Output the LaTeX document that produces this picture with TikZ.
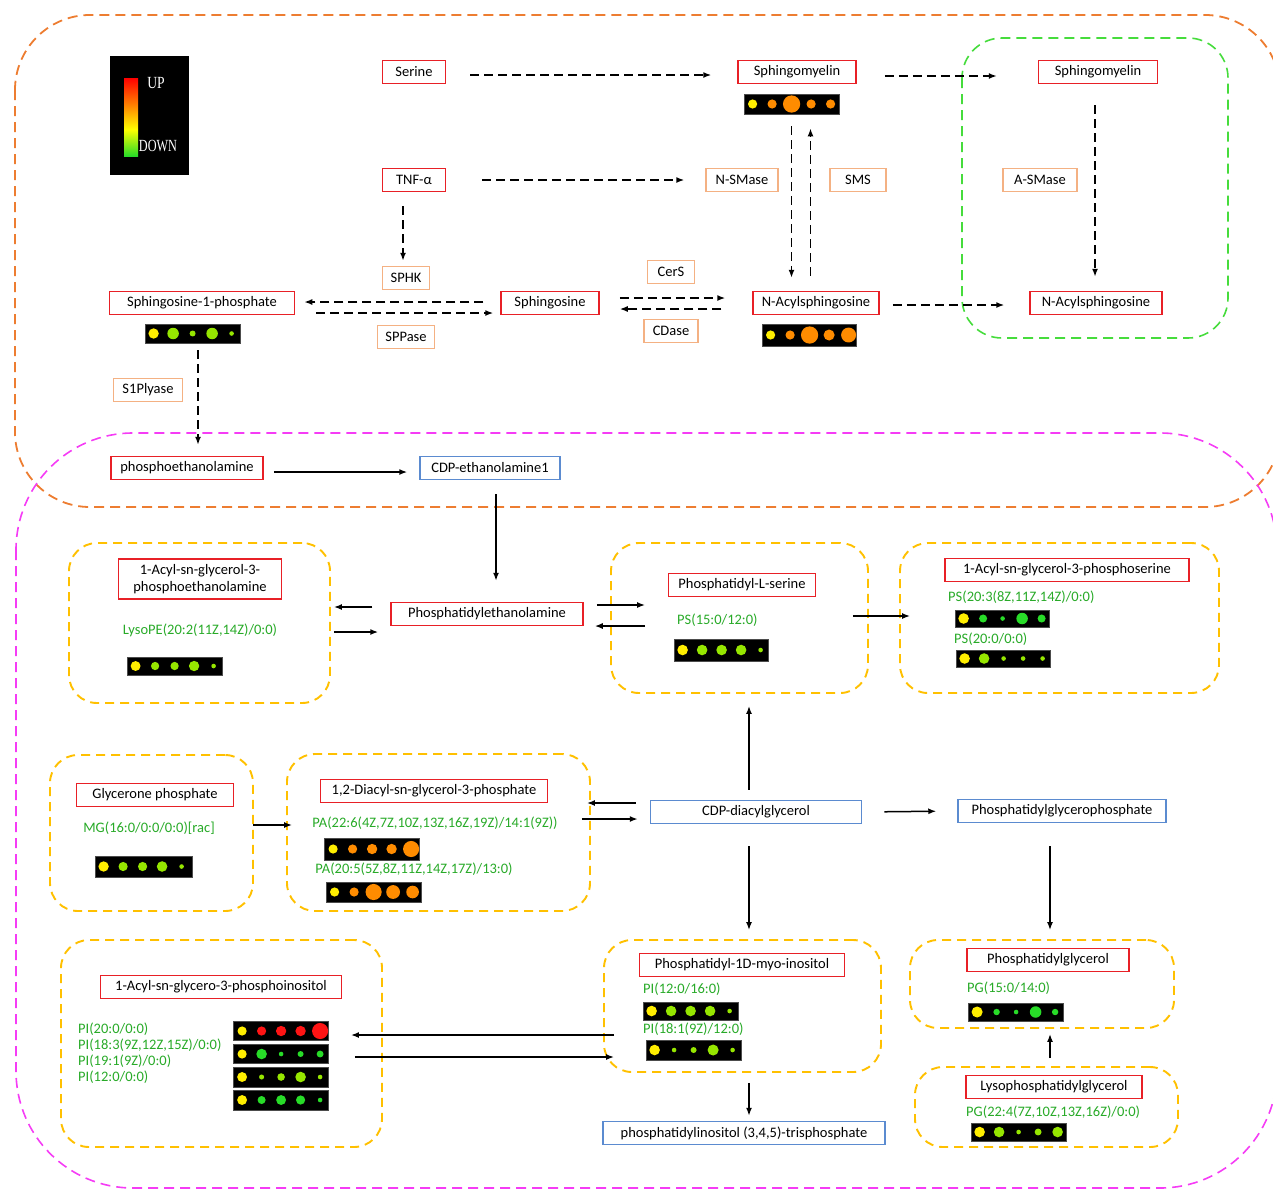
\documentclass[tikz,border=0pt]{standalone}
\usepackage{xcolor}
\usepackage{fontspec}
\setmainfont{Carlito}
\newfontfamily\legfont{Liberation Serif}
\usetikzlibrary{arrows.meta,calc,shadings}

\definecolor{metred}{RGB}{232,32,38}
\definecolor{enzpink}{RGB}{244,177,131}
\definecolor{bluebox}{RGB}{91,139,208}
\definecolor{labgreen}{RGB}{40,170,40}
\definecolor{grpyellow}{RGB}{255,192,0}
\definecolor{outorange}{RGB}{237,125,49}
\definecolor{outmagenta}{RGB}{245,60,245}
\definecolor{outgreen}{RGB}{70,220,60}
\definecolor{dotY}{RGB}{255,238,0}
\definecolor{dotL}{RGB}{150,230,0}
\definecolor{dotG}{RGB}{40,220,40}
\definecolor{dotO}{RGB}{255,140,0}
\definecolor{dotR}{RGB}{255,20,20}

\pgfdeclareverticalshading{legbar}{100bp}{color(0bp)=(dotG); color(25bp)=(dotG); color(42bp)=(yellow); color(58bp)=(orange); color(75bp)=(red); color(100bp)=(red)}

\newcommand{\dotrow}[2]{\foreach \dc/\dr [count=\di from 0] in {#2}{\fill[\dc] ($(#1.west)+(9+19.5*\di,0)$) circle[radius=1.15*\dr pt];}}

\begin{document}
\begin{tikzpicture}[x=1pt,y=-1pt,
	met/.style={draw=metred,line width=1.5pt,fill=white,minimum height=23pt,inner sep=2pt,font=\fontsize{14.5}{16}\selectfont},
	enz/.style={met,draw=enzpink},
	blu/.style={met,draw=bluebox},
	lab/.style={text=labgreen,inner sep=0pt,font=\fontsize{14.5}{16}\selectfont},
	grp/.style={draw=grpyellow,line width=1.9pt,dash pattern=on 9pt off 6pt,rounded corners=28pt},
	strip/.style={fill=black,draw=black!70,line width=0.8pt,inner sep=0pt},
	dsh/.style={->,dash pattern=on 9pt off 5pt,line width=1.5pt},
	sol/.style={->,line width=1.5pt},
	>={Latex[length=8pt,width=6pt]}]
		\useasboundingbox (0,0) rectangle (1273,1189);
		\begin{scope}
			\clip (0,0) rectangle (1273,1189);
			\draw[outorange,line width=1.8pt,dash pattern=on 10pt off 6pt,rounded corners=75pt] (15,15) rectangle (1280,507);
			\draw[outmagenta,line width=1.6pt,dash pattern=on 10pt off 6pt,rounded corners=117pt] (16,433) rectangle (1277,1188);
			\draw[outgreen,line width=1.6pt,dash pattern=on 10pt off 6pt,rounded corners=40pt] (962,38) rectangle (1228,338);
		\end{scope}

		\fill (110,56) rectangle (189,175);
		\shade[shading=legbar] (124,78) rectangle (138,156);
		\node[text=white,font=\legfont\fontsize{17}{17}\selectfont] (up) at (156,83) {\scalebox{0.8}[1]{UP}};
		\node[text=white,font=\legfont\fontsize{17}{17}\selectfont] (down) at (158,146) {\scalebox{0.72}[1]{DOWN}};

		\node[met,minimum width=63pt] (serine) at (414,72) {Serine};
		\node[met,minimum width=118pt] (sm) at (797,72) {Sphingomyelin};
		\node[met,minimum width=119pt] (sm2) at (1098,72) {Sphingomyelin};
		\node[met,minimum width=63pt] (tnf) at (414,180) {TNF-α};
		\node[enz,minimum width=72pt] (nsmase) at (742,180) {N-SMase};
		\node[enz,minimum width=56pt] (sms) at (858,180) {SMS};
		\node[enz,minimum width=74pt] (asmase) at (1040,180) {A-SMase};
		\node[enz,minimum width=47pt] (sphk) at (406,278) {SPHK};
		\node[met,minimum width=185pt] (s1p) at (202,303) {Sphingosine-1-phosphate};
		\node[met,minimum width=98pt] (sph) at (550,303) {Sphingosine};
		\node[enz,minimum width=57pt] (sppase) at (406,337) {SPPase};
		\node[enz,minimum width=47pt] (cers) at (671,272) {CerS};
		\node[enz,minimum width=54pt] (cdase) at (671,331) {CDase};
		\node[met,minimum width=126pt] (nacyl) at (816,303) {N-Acylsphingosine};
		\node[met,minimum width=132pt] (nacyl2) at (1096,303) {N-Acylsphingosine};
		\node[enz,minimum width=69pt] (s1plyase) at (148,390) {S1Plyase};
		\node[met,minimum width=152pt] (pethn) at (187,468) {phosphoethanolamine};
		\node[blu,minimum width=140pt] (cdpe) at (490,468) {CDP-ethanolamine1};

		\node[strip,minimum width=95pt,minimum height=19pt] (s1pS) at (192.5,333.5) {};
		\dotrow{s1pS}{dotY/4.5,dotL/5,dotL/2.6,dotL/5,dotL/2}
		\node[strip,minimum width=95pt,minimum height=20pt] (smS) at (791.5,104) {};
		\dotrow{smS}{dotY/4,dotO/4,dotO/7.5,dotO/4,dotO/4}
		\node[strip,minimum width=94pt,minimum height=22pt] (nacS) at (809,335) {};
		\dotrow{nacS}{dotY/4,dotO/4,dotO/7.5,dotO/4.8,dotO/6.5}

		\draw[dsh,shorten <=24pt,shorten >=26pt] ([yshift=-3pt]serine.east) -- ([yshift=-3pt]sm.west);
		\draw[dsh,shorten <=28pt,shorten >=41pt] ([yshift=-4pt]sm.east) -- ([yshift=-4pt]sm2.west);
		\draw[dsh,shorten <=36pt,shorten >=21pt] (tnf.east) -- (nsmase.west);
		\draw[dsh,shorten <=14pt,shorten >=5pt] ([xshift=-11pt]tnf.south) -- ([xshift=-3pt]sphk.north);
		\draw[dsh,shorten <=12pt,shorten >=13pt] (smS.south) -- (smS.south |- nacyl.north);
		\draw[dsh,shorten <=15pt,shorten >=14pt] ($(smS.south |- nacyl.north)+(19,0)$) -- ($(smS.south)+(19,0)$);
		\draw[dsh,shorten <=21pt,shorten >=14pt] ([xshift=-3pt]sm2.south) -- ([xshift=-1pt]nacyl2.north);
		\draw[dsh,shorten <=17pt,shorten >=9pt] ([yshift=1pt]sph.west) -- ([yshift=1pt]s1p.east);
		\draw[dsh,shorten <=21pt,shorten >=7pt] ([yshift=-10pt]s1p.east) -- ([yshift=-10pt]sph.west);
		\draw[dsh,shorten <=20pt,shorten >=27pt] ([yshift=5pt]sph.east) -- ([yshift=5pt]nacyl.west);
		\draw[dsh,shorten <=31pt,shorten >=20pt] ([yshift=-6pt]nacyl.west) -- ([yshift=-6pt]sph.east);
		\draw[dsh,shorten <=13pt,shorten >=25pt] ([yshift=-2pt]nacyl.east) -- ([yshift=-2pt]nacyl2.west);
		\draw[dsh,shorten <=7pt,shorten >=11pt] ([xshift=5.5pt]s1pS.south) -- ($(s1pS.south |- pethn.north)+(5.5,0)$);
		\draw[sol,shorten <=10pt,shorten >=12pt] ([yshift=-4pt]pethn.east) -- ([yshift=-4pt]cdpe.west);

		\node[grp,minimum width=261pt,minimum height=160pt] (gLPE) at (199.5,623) {};
		\node[grp,minimum width=257pt,minimum height=150pt] (gPS) at (739.5,618) {};
		\node[grp,minimum width=319pt,minimum height=150pt] (gPSer) at (1059.5,618) {};
		\node[grp,minimum width=203pt,minimum height=156pt] (gGly) at (151.5,833) {};
		\node[grp,minimum width=303pt,minimum height=157pt] (gPA) at (438.5,832.5) {};
		\node[grp,minimum width=321pt,minimum height=207pt] (gLPI) at (221.5,1043.5) {};
		\node[grp,minimum width=277pt,minimum height=132pt] (gPI) at (742.5,1006) {};
		\node[grp,minimum width=264pt,minimum height=88pt] (gPG) at (1042,984) {};
		\node[grp,minimum width=263pt,minimum height=80pt] (gLPG) at (1046.5,1107) {};

		\node[met,minimum width=163pt,minimum height=40pt,align=center,font=\fontsize{14.5}{17}\selectfont] (lpe) at (200,579) {1-Acyl-sn-glycerol-3-\\phosphoethanolamine};
		\node[lab] (lpeL) at (200,630) {LysoPE(20:2(11Z,14Z)/0:0)};
		\node[strip,minimum width=95pt,minimum height=18pt] (lpeS) at (174.5,666) {};
		\dotrow{lpeS}{dotY/4.3,dotL/3.6,dotL/3.6,dotL/4.5,dotL/2}
		\node[met,minimum width=192pt] (pe) at (487,614) {Phosphatidylethanolamine};

		\node[met,minimum width=147pt] (ps) at (742,585) {Phosphatidyl-L-serine};
		\node[lab,anchor=west] (psL) at (677,620) {PS(15:0/12:0)};
		\node[strip,minimum width=94pt,minimum height=22pt] (psS) at (721,650) {};
		\dotrow{psS}{dotY/4.6,dotL/4.6,dotL/4.6,dotL/4.6,dotL/2}

		\node[met,minimum width=244pt] (pser) at (1067,570) {1-Acyl-sn-glycerol-3-phosphoserine};
		\node[lab,anchor=west] (pserL1) at (948,597) {PS(20:3(8Z,11Z,14Z)/0:0)};
		\node[strip,minimum width=94pt,minimum height=17pt] (pserS1) at (1002,618.5) {};
		\dotrow{pserS1}{dotY/4.6,dotG/3.5,dotG/2,dotG/5,dotG/3.5}
		\node[lab,anchor=west] (pserL2) at (954,639) {PS(20:0/0:0)};
		\node[strip,minimum width=94pt,minimum height=17pt] (pserS2) at (1003,658.5) {};
		\dotrow{pserS2}{dotY/4.6,dotL/4.6,dotL/2,dotL/2,dotL/2}

		\node[met,minimum width=157pt] (gly) at (155,795) {Glycerone phosphate};
		\node[lab] (glyL) at (149,828) {MG(16:0/0:0/0:0)[rac]};
		\node[strip,minimum width=97pt,minimum height=21pt] (glyS) at (143.5,866.5) {};
		\dotrow{glyS}{dotY/4.5,dotL/4,dotL/4,dotL/4.6,dotL/2}

		\node[met,minimum width=227pt] (pa) at (434,791) {1,2-Diacyl-sn-glycerol-3-phosphate};
		\node[lab] (paL1) at (435,823) {PA(22:6(4Z,7Z,10Z,13Z,16Z,19Z)/14:1(9Z))};
		\node[strip,minimum width=95pt,minimum height=22pt] (paS1) at (372,849) {};
		\dotrow{paS1}{dotY/4,dotO/4,dotO/4.5,dotO/4.5,dotO/7}
		\node[lab] (paL2) at (414,869) {PA(20:5(5Z,8Z,11Z,14Z,17Z)/13:0)};
		\node[strip,minimum width=95pt,minimum height=20pt] (paS2) at (373.5,892) {};
		\dotrow{paS2}{dotY/4,dotO/4,dotO/7,dotO/6,dotO/5.5}

		\node[blu,minimum width=211pt] (cdpdag) at (756,812) {CDP-diacylglycerol};
		\node[blu,minimum width=208pt] (pgp) at (1062,811) {Phosphatidylglycerophosphate};

		\node[met,minimum width=241pt] (lpi) at (221,987) {1-Acyl-sn-glycero-3-phosphoinositol};
		\node[lab,anchor=west] (lpiL1) at (78,1029) {PI(20:0/0:0)};
		\node[lab,anchor=west] (lpiL2) at (78,1045) {PI(18:3(9Z,12Z,15Z)/0:0)};
		\node[lab,anchor=west] (lpiL3) at (78,1061) {PI(19:1(9Z)/0:0)};
		\node[lab,anchor=west] (lpiL4) at (78,1077) {PI(12:0/0:0)};
		\node[strip,minimum width=95pt,minimum height=19pt] (lpiS1) at (281,1031) {};
		\dotrow{lpiS1}{dotY/4,dotR/4,dotR/4.5,dotR/4.5,dotR/7}
		\node[strip,minimum width=95pt,minimum height=19pt] (lpiS2) at (281,1054) {};
		\dotrow{lpiS2}{dotY/4,dotG/4.6,dotG/2,dotG/2.6,dotG/3}
		\node[strip,minimum width=95pt,minimum height=20pt] (lpiS3) at (281,1077) {};
		\dotrow{lpiS3}{dotY/4.3,dotL/2.2,dotL/3.3,dotL/4.6,dotL/2}
		\node[strip,minimum width=95pt,minimum height=20pt] (lpiS4) at (281,1100) {};
		\dotrow{lpiS4}{dotY/4.3,dotG/3.5,dotG/4.3,dotG/4,dotG/2}

		\node[met,minimum width=205pt] (pim) at (742,965) {Phosphatidyl-1D-myo-inositol};
		\node[lab,anchor=west] (pimL1) at (643,989) {PI(12:0/16:0)};
		\node[strip,minimum width=95pt,minimum height=18pt] (pimS1) at (690.5,1011) {};
		\dotrow{pimS1}{dotY/4.6,dotL/4.6,dotL/4.6,dotL/4.6,dotL/2}
		\node[lab,anchor=west] (pimL2) at (643,1029) {PI(18:1(9Z)/12:0)};
		\node[strip,minimum width=95pt,minimum height=20pt] (pimS2) at (693.5,1050) {};
		\dotrow{pimS2}{dotY/4.6,dotL/2,dotL/2.6,dotL/4.8,dotL/2}
		\node[blu,minimum width=282pt] (pip3) at (744,1133) {phosphatidylinositol (3,4,5)-trisphosphate};

		\node[met,minimum width=162pt] (pg) at (1048,960) {Phosphatidylglycerol};
		\node[lab,anchor=west] (pgL) at (967,988) {PG(15:0/14:0)};
		\node[strip,minimum width=95pt,minimum height=18pt] (pgS) at (1016,1012) {};
		\dotrow{pgS}{dotY/4.8,dotG/2.8,dotG/2,dotG/5,dotG/2.8}
		\node[met,minimum width=176pt] (lpg) at (1054,1087) {Lysophosphatidylglycerol};
		\node[lab,anchor=west] (lpgL) at (966,1112) {PG(22:4(7Z,10Z,13Z,16Z)/0:0)};
		\node[strip,minimum width=95pt,minimum height=18pt] (lpgS) at (1018.5,1132) {};
		\dotrow{lpgS}{dotY/4.6,dotL/4.6,dotL/2,dotL/3,dotL/4.6}

		\draw[sol,shorten <=14pt,shorten >=21pt] ([xshift=6pt]cdpe.south) -- ($(cdpe.south |- pe.north)+(6,0)$);
		\draw[sol,shorten <=18pt,shorten >=3pt] ([yshift=7pt]pe.west) -- ([yshift=16pt]gLPE.east);
		\draw[sol,shorten <=3pt,shorten >=12pt] ([yshift=-9pt]gLPE.east) -- ([yshift=-18pt]pe.west);
		\draw[sol,shorten <=13pt,shorten >=-35pt] ([yshift=9pt]pe.east) -- ([yshift=13pt]gPS.west);
		\draw[sol,shorten <=-35pt,shorten >=11pt] ([yshift=-8pt]gPS.west) -- ([yshift=-12pt]pe.east);
		\draw[sol,shorten <=-16pt,shorten >=-11pt] ([yshift=2pt]gPS.east) -- ([yshift=2pt]gPSer.west);
		\draw[sol,shorten <=-1pt,shorten >=-6pt] ([yshift=8pt]gGly.east) -- ([yshift=7.5pt]gPA.west);
		\draw[sol,shorten <=14pt,shorten >=-4pt] ([yshift=9pt]cdpdag.west) -- ([yshift=29.5pt]gPA.east);
		\draw[sol,shorten <=-9pt,shorten >=12pt] ([yshift=13.5pt]gPA.east) -- ([yshift=-7pt]cdpdag.west);
		\coordinate (cu) at ([xshift=-7pt]cdpdag.north);
		\coordinate (cd) at ([xshift=-7pt]cdpdag.south);
		\draw[sol,shorten <=10pt,shorten >=12pt] (cu) -- (cu |- gPS.south);
		\draw[sol,shorten <=22pt,shorten >=9pt] (cd) -- (cd |- gPI.north);
		\draw[sol,shorten <=22pt,shorten >=21pt] (cdpdag.east) -- (pgp.west);
		\draw[sol,shorten <=23pt,shorten >=9pt] ([xshift=-12pt]pgp.south) -- ([xshift=8pt]gPG.north);
		\draw[sol,shorten <=10pt,shorten >=5pt] ([xshift=6.5pt]gPI.south) -- ([xshift=5pt]pip3.north);
		\draw[sol,shorten <=8pt,shorten >=5pt] ([xshift=3.5pt]gLPG.north) -- ([xshift=8pt]gPG.south);
		\draw[sol,shorten <=-11pt,shorten >=-32pt] ([yshift=-29pt]gPI.west) -- ([yshift=8.5pt]gLPI.east);
		\draw[sol,shorten <=-28pt,shorten >=-11pt] ([yshift=-13.5pt]gLPI.east) -- ([yshift=-51pt]gPI.west);
\end{tikzpicture}
\end{document}
